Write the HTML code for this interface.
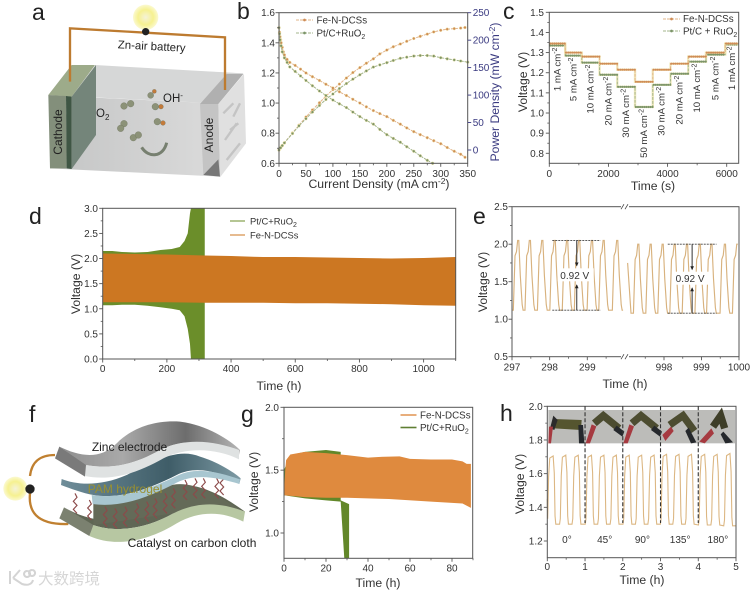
<!DOCTYPE html>
<html>
<head>
<meta charset="utf-8">
<title>Zn-air battery figure</title>
<style>
html,body{margin:0;padding:0;background:#fff;}
svg{display:block;font-family:"Liberation Sans","Noto Sans CJK SC",sans-serif;filter:blur(0.35px);}
</style>
</head>
<body>
<svg id="figure" width="751" height="592" viewBox="0 0 751 592" xmlns="http://www.w3.org/2000/svg">
<defs>
<linearGradient id="frontFace" x1="0" x2="1" y1="0" y2="0"><stop offset="0" stop-color="#c4c5c5"/><stop offset="1" stop-color="#dbdbdb"/></linearGradient>
<linearGradient id="zincTop" x1="0" x2="1" y1="0" y2="0"><stop offset="0" stop-color="#8e8e8e"/><stop offset="0.35" stop-color="#a9a9a9"/><stop offset="0.7" stop-color="#6d6d6d"/><stop offset="1" stop-color="#b5b5b5"/></linearGradient>
<linearGradient id="gelTop" x1="0" x2="1" y1="0" y2="0"><stop offset="0" stop-color="#6f8d99"/><stop offset="0.6" stop-color="#3f5d68"/><stop offset="1" stop-color="#7d9aa4"/></linearGradient>
<radialGradient id="bulbGlow"><stop offset="0" stop-color="#f5f2d8"/><stop offset="0.6" stop-color="#f6f190"/><stop offset="1" stop-color="#fbf9d0"/></radialGradient>
</defs>
<rect width="751" height="592" fill="#fff"/>

<g font-size="23" fill="#222">
<text x="32" y="20">a</text>
<text x="237" y="19">b</text>
<text x="503" y="19">c</text>
<text x="29" y="224">d</text>
<text x="473" y="224">e</text>
<text x="29" y="422">f</text>
<text x="241" y="422">g</text>
<text x="500" y="421">h</text>
</g>

<g transform="scale(0.33333)">
<polygon points="215,195 730,220 655,310 145,285" fill="#e0e0e0"/>
<polygon points="285,195 730,220 655,310 285,292" fill="#d6d7d7"/>
<polygon points="215,290 655,310 660,530 150,505" fill="url(#frontFace)"/>
<polygon points="145,285 215,195 285,195 215,290" fill="#9dab8a"/>
<polygon points="145,285 198,288 200,505 150,505" fill="#838f7b"/>
<polygon points="198,288 215,290 215,507 200,505" fill="#3f5644"/>
<polygon points="215,290 288,195 288,405 215,507" fill="#74857a"/>
<polygon points="600,312 655,312 660,530 610,525" fill="#c4c4c4"/>
<polygon points="610,525 655,478 660,530" fill="#777"/>
<polygon points="600,312 680,222 730,222 655,312" fill="#b0b0b0"/>
<polygon points="655,312 732,222 738,430 660,532" fill="#e0e0e0"/>
<path d="M670,340l30,-30M700,350l20,-40M675,420l35,-50M680,480l40,-50M690,390l25,-20" stroke="#c4c4c4" stroke-width="7" fill="none"/>
<path d="M210,245V85L437,98L675,112V270" fill="none" stroke="#bd7b30" stroke-width="7"/>
<circle cx="437" cy="52" r="38" fill="url(#bulbGlow)"/>
<circle cx="437" cy="95" r="11" fill="#222"/>
<g fill="#8c9278" stroke="#6a6f5a" stroke-width="1">
<circle cx="372" cy="318" r="10"/><circle cx="392" cy="311" r="10"/>
<circle cx="372" cy="371" r="10"/><circle cx="362" cy="385" r="10"/>
<circle cx="400" cy="413" r="10"/><circle cx="415" cy="405" r="10"/>
<circle cx="452" cy="286" r="9"/><circle cx="466" cy="320" r="10"/><circle cx="472" cy="365" r="10"/>
<circle cx="463" cy="274" r="6" fill="#c47a3a"/><circle cx="483" cy="320" r="7" fill="#c47a3a"/><circle cx="489" cy="369" r="7" fill="#c47a3a"/>
</g>
<path d="M425,442C445,475 490,472 500,428" fill="none" stroke="#778070" stroke-width="9"/>
</g>
<text transform="translate(151.5,50) rotate(3)" text-anchor="middle" font-size="11.4" fill="#222">Zn-air battery</text>
<text x="163" y="102" font-size="11.5" fill="#222">OH<tspan dy="-4" font-size="8">-</tspan></text>
<text x="96" y="117" font-size="11.5" fill="#222">O<tspan dy="3" font-size="8">2</tspan></text>
<text transform="translate(62,132) rotate(-90)" text-anchor="middle" font-size="12" fill="#222">Cathode</text>
<text transform="translate(213,135) rotate(-90)" text-anchor="middle" font-size="12" fill="#222">Anode</text>

<g transform="translate(0,400) scale(0.33333)">
<path d="M165,165C120,165 95,185 90,228M90,280C85,330 105,375 205,372" fill="none" stroke="#c08030" stroke-width="7"/>
<circle cx="46" cy="266" r="36" fill="url(#bulbGlow)"/>
<circle cx="90" cy="267" r="14" fill="#222"/>
<polygon points="192,322 178,355 268,408 282,375" fill="#7b8170"/>
<path d="M192,322C260,360 330,375 400,340C470,300 540,245 590,260C650,275 700,310 735,335L730,345C670,310 600,300 520,340C440,385 350,400 280,375Z" fill="#5f6654"/>
<path d="M280,300C340,320 420,300 500,260C560,235 640,275 720,330L520,340L280,375Z" fill="#646a58"/>
<path d="M280,375C350,400 440,385 520,340C600,300 670,310 735,335L730,365C670,335 600,330 530,370C450,420 350,445 268,408Z" fill="#b7c7a2"/>
<g id="wavy-chains"></g>
<path d="M185,237C230,255 300,260 380,225C450,190 530,140 600,170C650,185 700,215 722,235L718,252C660,215 590,195 530,225C460,260 370,300 280,285C250,280 210,265 183,255Z" fill="url(#gelTop)"/>
<path d="M275,285C370,300 460,262 530,228C590,198 660,218 720,238L718,252C660,235 590,218 530,248C460,285 370,325 278,312Z" fill="#a8c6d0"/>
<polygon points="178,140 165,175 255,230 262,195" fill="#7a7a7a"/>
<path d="M178,140C240,170 300,180 350,130C400,80 470,60 540,65C620,75 690,120 720,150L715,175C650,125 560,110 480,150C410,190 340,210 258,195Z" fill="url(#zincTop)"/>
<path d="M258,195C340,210 410,190 480,150C560,110 650,125 717,150L717,178C650,145 560,140 490,175C420,215 340,245 255,228Z" fill="#dfe2e2"/>
</g>
<text x="129.5" y="451" text-anchor="middle" font-size="12" fill="#222">Zinc electrode</text>
<text x="125" y="493" text-anchor="middle" font-size="12" fill="#9a9030">PAM hydrogel</text>
<text x="192" y="547" text-anchor="middle" font-size="12" fill="#222">Catalyst on carbon cloth</text>
<path d="M10,571V584M13,578L20,570M13,578L22,584C28,586 32,584 33,580M27,571a3,3 0 1,0 0.1,0M32,570a3,3 0 1,0 0.1,0" fill="none" stroke="#d4d4d4" stroke-width="2"/>
<text x="38" y="584" font-size="15.5" fill="#d6d6d6">大数跨境</text>

<g id="chart-b"></g>
<g id="chart-c"></g>
<g id="chart-d"></g>
<g id="chart-e"></g>
<g id="chart-g"></g>
<g id="chart-h"></g>

<g font-size="12.2" fill="#333">
<text x="379" y="188" text-anchor="middle">Current Density (mA cm<tspan dy="-4" font-size="8.5">-2</tspan><tspan dy="4">)</tspan></text>
<text transform="translate(499,92) rotate(-90)" text-anchor="middle" fill="#3a3a80">Power Density (mW cm<tspan dy="-4" font-size="8.5">-2</tspan><tspan dy="4">)</tspan></text>
<text transform="translate(527,82) rotate(-90)" text-anchor="middle">Voltage (V)</text>
<text x="653" y="190" text-anchor="middle">Time (s)</text>
<text transform="translate(80,284) rotate(-90)" text-anchor="middle">Voltage (V)</text>
<text x="279" y="390" text-anchor="middle">Time (h)</text>
<text transform="translate(487,282) rotate(-90)" text-anchor="middle">Voltage (V)</text>
<text x="625" y="388" text-anchor="middle">Time (h)</text>
<text transform="translate(258,482) rotate(-90)" text-anchor="middle">Voltage (V)</text>
<text x="378" y="587" text-anchor="middle">Time (h)</text>
<text transform="translate(524,484) rotate(-90)" text-anchor="middle">Voltage (V)</text>
<text x="642" y="584" text-anchor="middle">Time (h)</text>
</g>

<g font-size="9.8" fill="#333">
<text x="316.5" y="23.5">Fe-N-DCSs</text>
<text x="316.5" y="36.5">Pt/C+RuO<tspan dy="2.5" font-size="7">2</tspan></text>
<line x1="296" y1="20" x2="313" y2="20" stroke="#e2b48a" stroke-width="1" stroke-dasharray="3 1"/>
<circle cx="304.5" cy="20" r="1.4" fill="#cf8c55"/>
<line x1="296" y1="33" x2="313" y2="33" stroke="#a3b58b" stroke-width="1" stroke-dasharray="3 1"/>
<circle cx="304.5" cy="33" r="1.4" fill="#7b9468"/>
<text x="683" y="22">Fe-N-DCSs</text>
<text x="683" y="34.5">Pt/C + RuO<tspan dy="2.5" font-size="7">2</tspan></text>
<line x1="663" y1="19" x2="680" y2="19" stroke="#e2b48a" stroke-width="1" stroke-dasharray="3 1"/>
<circle cx="671.5" cy="19" r="1.4" fill="#cf8c55"/>
<line x1="663" y1="31" x2="680" y2="31" stroke="#a3b58b" stroke-width="1" stroke-dasharray="3 1"/>
<circle cx="671.5" cy="31" r="1.4" fill="#7b9468"/>
<text x="250" y="224.5" font-size="9.4">Pt/C+RuO<tspan dy="2.5" font-size="7">2</tspan></text>
<text x="250" y="238.5" font-size="9.4">Fe-N-DCSs</text>
<line x1="230" y1="221" x2="245" y2="221" stroke="#6b8e2a" stroke-width="1"/>
<line x1="230" y1="235" x2="245" y2="235" stroke="#cc7722" stroke-width="1"/>
<text x="420" y="418.5" font-size="9.8">Fe-N-DCSs</text>
<text x="420" y="431" font-size="9.8">Pt/C+RuO<tspan dy="2.5" font-size="7">2</tspan></text>
<line x1="400.5" y1="415" x2="416.5" y2="415" stroke="#e39a5b" stroke-width="1.6"/>
<line x1="400.5" y1="427.5" x2="416.5" y2="427.5" stroke="#5f7f33" stroke-width="1.6"/>
</g>

<g transform="translate(495,395) scale(0.33333)">
<rect x="160" y="45" width="560" height="100" fill="#bcbcb9"/>
<g>
<polygon points="175,72 260,75 258,105 178,100" fill="#55552f"/>
<polygon points="165,100 175,62 188,75 178,105" fill="#2b2b2b"/>
<polygon points="160,145 162,95 174,95 168,145" fill="#a63a40"/>
<polygon points="250,90 264,90 268,145 252,145" fill="#25282c"/>
</g>
<g>
<path d="M298,85L325,62L372,100" fill="none" stroke="#4c4c30" stroke-width="22"/>
<polygon points="272,145 290,88 304,94 285,145" fill="#a63a40"/>
<polygon points="365,92 388,110 382,125 355,105" fill="#25282c"/>
</g>
<g transform="translate(113,0)">
<path d="M298,85L325,62L372,100" fill="none" stroke="#4c4c30" stroke-width="22"/>
<polygon points="272,145 290,88 304,94 285,145" fill="#a63a40"/>
<polygon points="365,92 388,110 382,125 355,105" fill="#25282c"/>
</g>
<g transform="translate(226,0)">
<path d="M298,90L338,62L372,108" fill="none" stroke="#4c4c30" stroke-width="22"/>
<polygon points="276,120 302,95 310,108 285,138" fill="#a63a40"/>
<polygon points="355,98 378,142 362,145 345,108" fill="#25282c"/>
</g>
<g transform="translate(339,0)">
<path d="M315,95L338,62L350,100" fill="none" stroke="#3e3e28" stroke-width="22"/>
<polygon points="274,140 310,100 318,115 290,145" fill="#a63a40"/>
<polygon points="346,110 375,142 352,145 338,118" fill="#25282c"/>
</g>
</g>

<script>
// ---- Panel b data ----
const bFeI = [0,1,2,3,4,6,8,10,15,20,30,40,50,62,75,87,100,112,125,137,150,162,175,187,200,212,225,237,250,262,275,287,300,312,325,337,345];
const bFeV = [1.5,1.47,1.44,1.42,1.40,1.37,1.34,1.32,1.29,1.27,1.25,1.225,1.20,1.175,1.15,1.125,1.10,1.075,1.05,1.025,1.00,0.975,0.95,0.93,0.91,0.885,0.86,0.835,0.81,0.79,0.77,0.75,0.73,0.705,0.68,0.66,0.64];
const bPtI = [0,1,2,4,6,10,15,20,30,40,50,62,75,87,100,112,125,137,150,162,175,187,200,212,225,237,250,262,275,285];
const bPtV = [1.5,1.46,1.42,1.38,1.34,1.30,1.27,1.24,1.21,1.18,1.15,1.115,1.08,1.05,1.02,0.995,0.97,0.94,0.91,0.885,0.86,0.825,0.79,0.765,0.74,0.71,0.68,0.65,0.62,0.60];
const bFePowerI = [0,3,6,10,25,37,50,62,75,87,100,112,125,137,150,162,175,187,200,212,225,237,250,262,275,287,300,312,325,337,345];
const bFePower = [0,4,8,13,31,45,60,73,86,98,110,120,131,141,150,158,166,175,182,188,193,198,203,207,211,215,218,220,221,222,223];
const bPtPowerI = [0,3,6,10,25,37,50,62,75,87,100,112,125,137,150,162,175,187,200,212,225,237,250,262,275,287,300,312,325,337,350];
const bPtPower = [0,4,8,13,30,44,57,69,81,92,102,112,121,129,137,144,151,155,159,163,167,169,171,172,172,171,168,166,164,162,160];
const bXTicks = [0,50,100,150,200,250,300,350];
const bYTicks = [0.6,0.8,1.0,1.2,1.4,1.6];
const bPowerTicks = [0,50,100,150,200,250];

// ---- Panel c data ----
const cCurrentLabels = ['1','5','10','20','30','50','30','20','10','5','1'];
const cStepStart = [0,540,1100,1700,2300,2900,3500,4100,4700,5300,5950];
const cStepEnd = [540,1100,1700,2300,2900,3500,4100,4700,5300,5950,6400];
const cFeVoltage = [1.345,1.30,1.28,1.245,1.215,1.155,1.215,1.245,1.28,1.30,1.345];
const cPtVoltage = [1.335,1.285,1.25,1.19,1.13,1.03,1.14,1.195,1.255,1.29,1.34];
const cXTicks = [0,2000,4000,6000];
const cYTicks = [0.8,0.9,1.0,1.1,1.2,1.3,1.4,1.5];

// ---- Panel d data ----
const dPtUpperT = [0,30,60,100,140,180,215,240,255,265,272,275,318];
const dPtUpperV = [2.15,2.15,2.13,2.12,2.13,2.17,2.19,2.23,2.35,2.5,2.9,3.0,3.0];
const dPtLowerT = [318,275,272,265,255,240,215,180,140,100,60,30,0];
const dPtLowerV = [0,0,0.3,0.6,0.85,0.97,1.0,1.03,1.06,1.08,1.08,1.07,1.07];
const dFeUpperT = [0,100,200,317,400,500,600,700,800,900,1000,1100];
const dFeUpperV = [2.1,2.09,2.08,2.06,2.05,2.03,2.03,2.02,2.01,2.0,2.01,2.03];
const dFeLowerT = [1100,1000,900,800,700,600,500,400,317,200,100,0];
const dFeLowerV = [1.06,1.07,1.09,1.1,1.11,1.11,1.12,1.12,1.12,1.13,1.13,1.13];
const dXTicks = [0,200,400,600,800,1000];
const dYTicks = [0,0.5,1.0,1.5,2.0,2.5,3.0];

// ---- Panel e data ----
const ePeaksLeft = [297.17,297.48,297.81,298.14,298.47,298.79,299.13,299.44,299.8];
const ePeaksRight = [997.32,997.65,997.97,998.29,998.62,998.96,999.27,999.63,999.96];
const eHighLeft = 2.05;
const eLowLeft = 1.12;
const eHighRight = 2.0;
const eLowRight = 1.08;
const eShapeDt = [-0.135,-0.09,-0.05,-0.02,0.01,0.05,0.1,0.125];
const eShapeFrac = [0,0.78,0.84,1,1,0.5,0.08,0];
const eGapLabels = ['0.92 V','0.92 V'];
const eXTicks = [297,298,299,998,999,1000];
const eYTicks = [0.5,1.0,1.5,2.0,2.5];

// ---- Panel g data ----
const gPtUpperT = [0,3,10,20,27,27,31,31,28.7,27,20,10,0];
const gPtUpperV = [1.5,1.62,1.645,1.66,1.645,1.26,1.23,0.8,0.8,1.25,1.26,1.275,1.3];
const gFeUpperT = [0,0.6,1,3,10,20,30,40,45,55,60,70,80,85,87,89];
const gFeUpperV = [1.32,1.5,1.58,1.625,1.645,1.635,1.62,1.6,1.605,1.61,1.59,1.585,1.585,1.57,1.55,1.55];
const gFeLowerT = [89,85,70,50,30,20,10,0];
const gFeLowerV = [1.2,1.235,1.25,1.27,1.28,1.28,1.285,1.3];
const gXTicks = [0,20,40,60,80];
const gYTicks = [1.0,1.5,2.0];

// ---- Panel h data ----
const hPeaks = [0.115,0.45,0.78,1.13,1.46,1.79,2.13,2.46,2.79,3.12,3.45,3.78,4.13,4.46,4.8];
const hHigh = [1.705,1.71,1.71,1.71,1.71,1.71,1.71,1.71,1.71,1.715,1.715,1.715,1.715,1.715,1.72];
const hLow = [1.30,1.30,1.30,1.30,1.30,1.30,1.30,1.30,1.30,1.30,1.30,1.30,1.295,1.295,1.29];
const hShapeDt = [-0.125,-0.105,-0.08,-0.05,0.04,0.07,0.09,0.11];
const hShapeFrac = [0,0.08,0.7,0.97,1,0.75,0.12,0];
const hAngles = ['0°','45°','90°','135°','180°'];
const hXTicks = [0,1,2,3,4,5];
const hYTicks = [1.2,1.4,1.6,1.8,2.0];

const NS = 'http://www.w3.org/2000/svg';
function el(parent, tag, attrs, name) {
  const e = document.createElementNS(NS, tag);
  for (const k in attrs) e.setAttribute(k, attrs[k]);
  
  
  parent.appendChild(e);
  return e;
}
function label(parent, x, y, str, anchor, size, fill, name) {
  const t = el(parent, 'text', {x:x, y:y, 'text-anchor':anchor, 'font-size':size, fill:fill}, name);
  t.textContent = str;
  return t;
}
function linear(d0, d1, r0, r1) { return v => r0 + (v - d0) * (r1 - r0) / (d1 - d0); }
function pathOf(xs, ys, sx, sy) { return xs.map((x, i) => (i ? 'L' : 'M') + sx(x).toFixed(2) + ',' + sy(ys[i]).toFixed(2)).join(''); }
function frame(g, b, color) {
  el(g, 'rect', {x:b.l, y:b.t, width:b.r-b.l, height:b.b-b.t, fill:'none', stroke:color || '#555', 'stroke-width':1}, 'plot-frame');
}
function xAxis(g, ticks, minor, sx, b, baseline, name) {
  minor.forEach(v => el(g, 'line', {x1:sx(v), x2:sx(v), y1:b.b, y2:b.b+2, stroke:'#555', 'stroke-width':0.8}, name + '-minor-tick'));
  ticks.forEach(v => {
    el(g, 'line', {x1:sx(v), x2:sx(v), y1:b.b, y2:b.b+3.5, stroke:'#555', 'stroke-width':0.9}, name + '-tick');
    label(g, sx(v), baseline, String(v), 'middle', 10, '#333', name + '-tick-label');
  });
}
function yAxis(g, ticks, minor, sy, b, labelRight, digits, name) {
  minor.forEach(v => el(g, 'line', {x1:b.l-2, x2:b.l, y1:sy(v), y2:sy(v), stroke:'#555', 'stroke-width':0.8}, name + '-minor-tick'));
  ticks.forEach(v => {
    el(g, 'line', {x1:b.l-3.5, x2:b.l, y1:sy(v), y2:sy(v), stroke:'#555', 'stroke-width':0.9}, name + '-tick');
    label(g, labelRight, sy(v)+3.5, v.toFixed(digits), 'end', 10, '#333', name + '-tick-label');
  });
}
function minorRange(a, b, step) { const o = []; for (let i = 0; a + i * step <= b + 1e-9; i++) o.push(+(a + i * step).toFixed(6)); return o; }
function wave(peaks, high, low, dt, frac) {
  const t = [], v = [];
  peaks.forEach((p, c) => {
    const hi = Array.isArray(high) ? high[c] : high;
    const lo = Array.isArray(low) ? low[c] : low;
    dt.forEach((d, i) => { t.push(p + d); v.push(lo + (hi - lo) * frac[i]); });
  });
  return {t, v};
}

// Decorative polymer chains in the flexible battery schematic
(function () {
  const g = document.getElementById('wavy-chains');
  const anchors = [[225,280],[268,300],[315,320],[345,325],[375,320],[410,310],[440,305],[465,295],[495,280],[520,265],[555,240],[585,235],[610,235],[650,235],[665,225]];
  anchors.forEach(a => {
    let d = 'M' + a[0] + ',' + a[1];
    for (let i = 1; i <= 5; i++) d += 'L' + (a[0] + (i % 2 ? 6 : -5)) + ',' + (a[1] + i * 12);
    el(g, 'path', {d:d, fill:'none', stroke:'#8c4a4a', 'stroke-width':3.5}, 'polymer-chain');
  });
})();

// Panel b
(function () {
  const g = document.getElementById('chart-b');
  const box = {l:279, r:467.7, t:12.7, b:163.3};
  const sx = linear(0, 350, box.l, box.r);
  const sy = linear(0.6, 1.6, box.b, box.t);
  const sp = linear(0, 250, 150, 12.7);
  function series(xs, ys, scale, line, mark, name) {
    el(g, 'path', {d:pathOf(xs, ys, sx, scale), fill:'none', stroke:line, 'stroke-width':1, 'stroke-dasharray':'3 1'}, name + '-line');
    xs.forEach((x, i) => el(g, 'circle', {cx:sx(x), cy:scale(ys[i]), r:1.4, fill:mark, stroke:'#efe3a8', 'stroke-width':0.5}, name + '-point'));
  }
  series(bFePowerI, bFePower, sp, '#e2b48a', '#cf8c55', 'fe-power');
  series(bPtPowerI, bPtPower, sp, '#a3b58b', '#7b9468', 'pt-power');
  series(bFeI, bFeV, sy, '#e2b48a', '#cf8c55', 'fe-voltage');
  series(bPtI, bPtV, sy, '#a3b58b', '#7b9468', 'pt-voltage');
  frame(g, box);
  xAxis(g, bXTicks, minorRange(25, 325, 50), sx, box, 177, 'b-x');
  yAxis(g, bYTicks, minorRange(0.7, 1.5, 0.2), sy, box, 275, 1, 'b-y');
  bPowerTicks.forEach(v => {
    el(g, 'line', {x1:box.r, x2:box.r+3.5, y1:sp(v), y2:sp(v), stroke:'#3a3a80', 'stroke-width':0.9}, 'b-power-tick');
    label(g, box.r+5, sp(v)+3.5, String(v), 'start', 10, '#3a3a80', 'b-power-tick-label');
  });
})();

// Panel c
(function () {
  const g = document.getElementById('chart-c');
  const box = {l:549.3, r:738.7, t:12.3, b:163.3};
  const sx = linear(0, 6000, 549.3, 726.7);
  const sy = linear(0.8, 1.5, 153.3, 12.3);
  function series(vals, line, mark, name) {
    const xs = [], ys = [];
    vals.forEach((v, i) => { xs.push(cStepStart[i], cStepEnd[i]); ys.push(v, v); });
    el(g, 'path', {d:pathOf(xs, ys, sx, sy), fill:'none', stroke:'#f0e6b0', 'stroke-width':2.4, opacity:0.8}, name + '-halo');
    el(g, 'path', {d:pathOf(xs, ys, sx, sy), fill:'none', stroke:line, 'stroke-width':1, 'stroke-dasharray':'3 1'}, name + '-line');
    vals.forEach((v, i) => {
      for (let t = cStepStart[i] + 30; t < cStepEnd[i]; t += 70) {
        el(g, 'circle', {cx:sx(t), cy:sy(v), r:1.1, fill:mark}, name + '-point');
      }
    });
  }
  series(cPtVoltage, '#a3b58b', '#7b9468', 'pt-step');
  series(cFeVoltage, '#e2b48a', '#cf8c55', 'fe-step');
  cCurrentLabels.forEach((c, i) => {
    const mid = (cStepStart[i] + cStepEnd[i]) / 2;
    const t = el(g, 'text', {transform:'translate(' + (sx(mid) + 3) + ',' + (sy(cPtVoltage[i]) + 2) + ') rotate(-90)', 'text-anchor':'end', 'font-size':9.6, fill:'#333'}, 'current-label');
    t.appendChild(document.createTextNode(c + ' mA cm'));
    const s = el(t, 'tspan', {dy:-3.5, 'font-size':7}, 'current-label-exponent');
    s.textContent = '-2';
  });
  frame(g, box);
  xAxis(g, cXTicks, minorRange(1000, 5000, 2000), sx, box, 177, 'c-x');
  yAxis(g, cYTicks, minorRange(0.85, 1.45, 0.1), sy, box, 544, 1, 'c-y');
})();

// Panel d
(function () {
  const g = document.getElementById('chart-d');
  const box = {l:102.7, r:455.7, t:208.3, b:359};
  const sx = linear(0, 1100, box.l, box.r);
  const sy = linear(0, 3, box.b, box.t);
  el(g, 'path', {d:pathOf(dPtUpperT.concat(dPtLowerT), dPtUpperV.concat(dPtLowerV), sx, sy) + 'Z', fill:'#6b8e2a'}, 'pt-voltage-band');
  el(g, 'path', {d:pathOf(dFeUpperT.concat(dFeLowerT), dFeUpperV.concat(dFeLowerV), sx, sy) + 'Z', fill:'#cc7722'}, 'fe-voltage-band');
  frame(g, box);
  xAxis(g, dXTicks, minorRange(100, 1100, 200), sx, box, 372, 'd-x');
  yAxis(g, dYTicks, minorRange(0.25, 2.75, 0.5), sy, box, 98, 1, 'd-y');
})();

// Panel e
(function () {
  const g = document.getElementById('chart-e');
  const box = {l:512, r:739, t:206.7, b:356.7};
  const sx = t => t < 600 ? 512 + (t - 297) * 37.65 : 739 - (1000 - t) * 37.5;
  const sy = linear(0.5, 2.5, box.b, box.t);
  const L = wave(ePeaksLeft, eHighLeft, eLowLeft, eShapeDt, eShapeFrac);
  const R = wave(ePeaksRight, eHighRight, eLowRight, eShapeDt, eShapeFrac);
  const lt = [297].concat(L.t.filter(t => t >= 297), [299.95]);
  const lv = [eLowLeft].concat(L.v.filter((v, i) => L.t[i] >= 297), [eLowLeft]);
  const rKeep = R.t.map(t => t <= 1000);
  const rt = [997.03, 997.12].concat(R.t.filter((t, i) => rKeep[i]));
  const rv = [eHighRight - 0.25, eLowRight].concat(R.v.filter((v, i) => rKeep[i]));
  el(g, 'path', {d:pathOf(lt, lv, sx, sy), fill:'none', stroke:'#d8b27e', 'stroke-width':1.15}, 'fe-cycle-line-early');
  el(g, 'path', {d:pathOf(rt, rv, sx, sy), fill:'none', stroke:'#d8b27e', 'stroke-width':1.15}, 'fe-cycle-line-late');
  // Gap annotations
  function annotate(t0, t1, hi, lo, arrowT, text, name) {
    el(g, 'line', {x1:sx(t0), x2:sx(t1), y1:sy(hi), y2:sy(hi), stroke:'#444', 'stroke-width':0.8, 'stroke-dasharray':'2 1'}, name + '-high-line');
    el(g, 'line', {x1:sx(t0), x2:sx(t1), y1:sy(lo), y2:sy(lo), stroke:'#444', 'stroke-width':0.8, 'stroke-dasharray':'2 1'}, name + '-low-line');
    const m1 = sy(hi) + 25, m2 = sy(lo) - 25, x = sx(arrowT);
    el(g, 'line', {x1:x, x2:x, y1:sy(hi), y2:m1, stroke:'#333', 'stroke-width':1}, name + '-arrow-down');
    el(g, 'path', {d:'M' + (x-1.8) + ',' + (m1-3) + 'L' + (x+1.8) + ',' + (m1-3) + 'L' + x + ',' + (m1+1) + 'Z', fill:'#222'}, name + '-arrow-down-head');
    el(g, 'line', {x1:x, x2:x, y1:sy(lo), y2:m2, stroke:'#333', 'stroke-width':1}, name + '-arrow-up');
    el(g, 'path', {d:'M' + (x-1.8) + ',' + (m2+3) + 'L' + (x+1.8) + ',' + (m2+3) + 'L' + x + ',' + (m2-1) + 'Z', fill:'#222'}, name + '-arrow-up-head');
    const mid = (sy(hi) + sy(lo)) / 2;
    el(g, 'rect', {x:x-19, y:mid-7, width:36, height:13, fill:'#fff'}, name + '-label-background');
    label(g, x - 2, mid + 3.5, text, 'middle', 10, '#333', name + '-label');
  }
  annotate(298.07, 299.35, eHighLeft, eLowLeft, 298.72, eGapLabels[0], 'e-gap-early');
  annotate(998.1, 999.4, eHighRight, eLowRight, 998.75, eGapLabels[1], 'e-gap-late');
  frame(g, box);
  el(g, 'rect', {x:621, y:box.t-1.5, width:8, height:3, fill:'#fff'}, 'top-axis-break-gap');
  el(g, 'rect', {x:621, y:box.b-1.5, width:8, height:3, fill:'#fff'}, 'bottom-axis-break-gap');
  [box.t, box.b].forEach(y => {
    el(g, 'path', {d:'M' + 621 + ',' + (y+2.5) + 'l3,-5M' + 625 + ',' + (y+2.5) + 'l3,-5', stroke:'#444', 'stroke-width':0.8, fill:'none'}, 'axis-break-mark');
  });
  xAxis(g, eXTicks, [297.5,298.5,299.5,997.5,998.5,999.5], sx, box, 370.5, 'e-x');
  yAxis(g, eYTicks, minorRange(0.75, 2.25, 0.5), sy, box, 508, 1, 'e-y');
})();

// Panel g
(function () {
  const g = document.getElementById('chart-g');
  const box = {l:284, r:472.7, t:407.3, b:558.3};
  const sx = linear(0, 80, 284, 452);
  const sy = linear(1.0, 2.0, 533, 407.3);
  el(g, 'path', {d:pathOf(gPtUpperT, gPtUpperV, sx, sy) + 'Z', fill:'#628729'}, 'pt-voltage-band');
  el(g, 'path', {d:pathOf(gFeUpperT.concat(gFeLowerT), gFeUpperV.concat(gFeLowerV), sx, sy) + 'Z', fill:'#df8a3e'}, 'fe-voltage-band');
  frame(g, box);
  xAxis(g, gXTicks, minorRange(10, 90, 20), sx, box, 571.5, 'g-x');
  yAxis(g, gYTicks, [1.25, 1.75], sy, box, 279, 1, 'g-y');
})();

// Panel h
(function () {
  const g = document.getElementById('chart-h');
  const box = {l:547.3, r:736, t:406.3, b:557.7};
  const sx = linear(0, 5, box.l, box.r);
  const sy = linear(1.2, 2.0, 541, 406.3);
  const W = wave(hPeaks, hHigh, hLow, hShapeDt, hShapeFrac);
  const keep = W.t.map(t => t >= 0);
  const t = [0].concat(W.t.filter((x, i) => keep[i]), [5]);
  const v = [1.45].concat(W.v.filter((x, i) => keep[i]), [hLow[hLow.length - 1]]);
  el(g, 'path', {d:pathOf(t, v, sx, sy), fill:'none', stroke:'#dcb783', 'stroke-width':1.1}, 'fe-cycle-line');
  [1,2,3,4].forEach(h => {
    el(document.getElementById('figure'), 'line', {x1:sx(h), x2:sx(h), y1:box.t, y2:523, stroke:'#333', 'stroke-width':1.1, 'stroke-dasharray':'4 2'}, 'bend-divider');
  });
  hAngles.forEach((a, i) => label(g, sx(i + 0.52), 543, a, 'middle', 10, '#333', 'bend-angle-label'));
  frame(g, box);
  xAxis(g, hXTicks, minorRange(0.5, 4.5, 1), sx, box, 570, 'h-x');
  yAxis(g, hYTicks, minorRange(1.3, 1.9, 0.2), sy, box, 542.7, 1, 'h-y');
})();
</script>
</svg>
</body>
</html>
